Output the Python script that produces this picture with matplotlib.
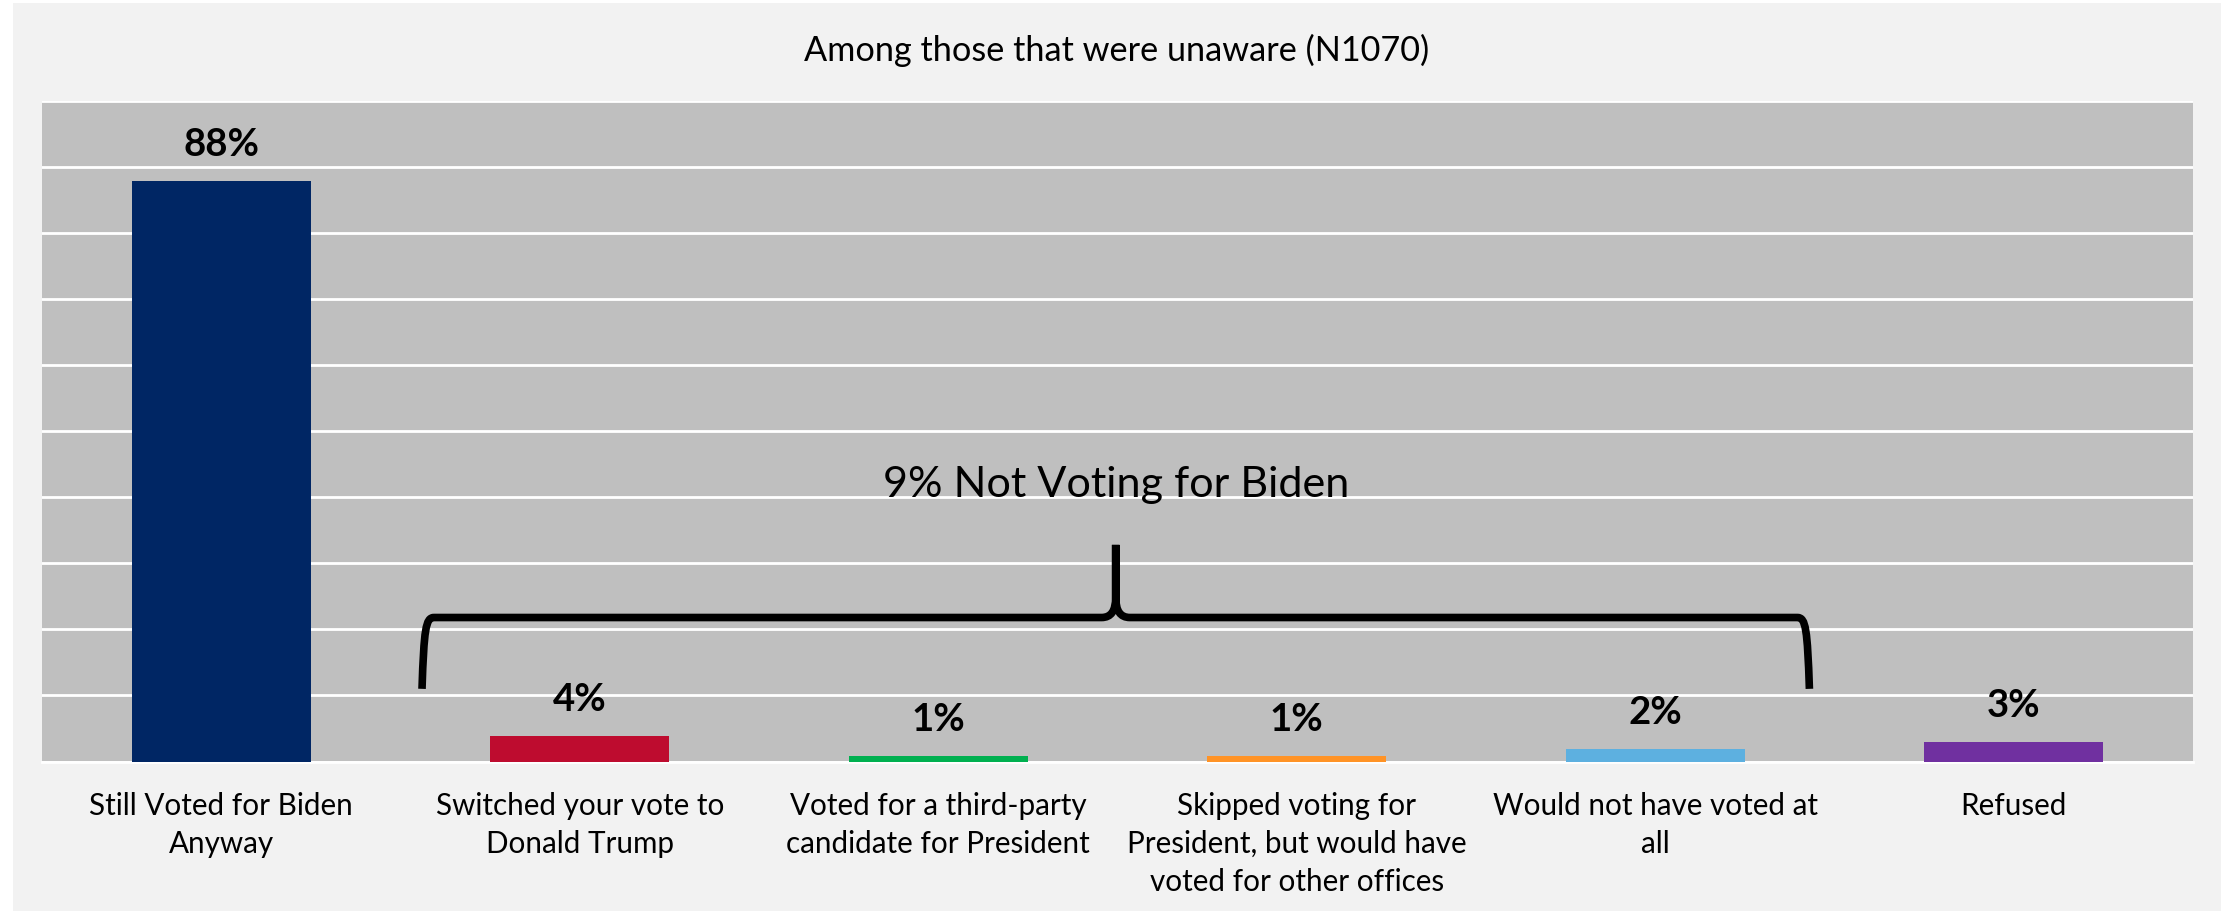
import matplotlib
matplotlib.use("Agg")
import matplotlib.pyplot as plt
from matplotlib.path import Path
from matplotlib.patches import PathPatch, Rectangle

# ---- data ----
categories = [
    "Still Voted for Biden\nAnyway",
    "Switched your vote to\nDonald Trump",
    "Voted for a third-party\ncandidate for President",
    "Skipped voting for\nPresident, but would have\nvoted for other offices",
    "Would not have voted at\nall",
    "Refused",
]
values = [87.9, 3.9, 0.8, 0.8, 1.9, 2.9]
value_labels = ["88%", "4%", "1%", "1%", "2%", "3%"]
colors = ["#002664", "#BE0C2F", "#00B050", "#FF9326", "#5DB0E0", "#7030A0"]
title = "Among those that were unaware (N1070)"
brace_text = "9% Not Voting for Biden"
brace_first, brace_last = 1, 4

FONT = "Lato"
plt.rcParams["font.family"] = [FONT, "DejaVu Sans"]

W, H = 2226, 912
fig = plt.figure(figsize=(W / 100, H / 100), dpi=100)
fig.patch.set_facecolor("white")
# outer light-grey chart area
fig.patches.append(Rectangle((13 / W, 0), (2221 - 13) / W, (H - 4) / H,
                             transform=fig.transFigure, facecolor="#F2F2F2",
                             edgecolor="none", zorder=-10))

left, right, top, bottom = 42, 2193, 102, 762.5
ax = fig.add_axes([left / W, (H - bottom) / H, (right - left) / W, (bottom - top) / H])
ax.set_facecolor("#BFBFBF")
x = list(range(len(categories)))
ax.bar(x, values, width=0.5, color=colors, zorder=3)
ax.set_xlim(-0.5, len(categories) - 0.5)
ax.set_ylim(0, 100)
ax.set_yticks(range(0, 101, 10))
ax.yaxis.grid(True, color="white", linewidth=2.0, zorder=1)
ax.set_axisbelow(True)
ax.tick_params(axis="both", length=0, labelleft=False)
for s in ax.spines.values():
    s.set_visible(False)
ax.spines["bottom"].set_visible(True)
ax.spines["bottom"].set_color("white")
ax.spines["bottom"].set_linewidth(2)
ax.set_xticks(x)
ax.set_xticklabels(categories, fontsize=21.3, linespacing=1.45, va="top")
ax.tick_params(axis="x", pad=21)

for xi, v, lab in zip(x, values, value_labels):
    ax.annotate(lab, (xi, v), xytext=(0, 20), textcoords="offset pixels",
                ha="center", va="bottom", fontsize=27.6, fontweight="bold")

fig.text(0.5015, (H - 50) / H, title, ha="center", va="center", fontsize=24.7)

# ---- curly brace over the "not voting for Biden" categories ----
px_x = (right - left) / len(categories)   # pixels per category
px_y = (bottom - top) / 100.0              # pixels per percent
xl = brace_first - 0.44
xr = brace_last + 0.43
xc = (xl + xr) / 2
yh = 21.8
yb = 11.0
ytop = 32.8
rx, ry = 12 / px_x, 12 / px_y
fx, fy = 14 / px_x, 20 / px_y
verts = [
    (xl, yb), (xl + 2 / px_x, yh - ry), (xl + 0.3 * rx, yh), (xl + rx, yh),
    (xc - fx, yh), (xc, yh), (xc, yh + fy), (xc, ytop),
    (xc, ytop), (xc, yh + fy), (xc, yh), (xc + fx, yh),
    (xr - rx, yh), (xr - 0.3 * rx, yh), (xr - 2 / px_x, yh - ry), (xr, yb),
]
codes = [
    Path.MOVETO, Path.CURVE4, Path.CURVE4, Path.CURVE4,
    Path.LINETO, Path.CURVE3, Path.CURVE3, Path.LINETO,
    Path.MOVETO, Path.LINETO, Path.CURVE3, Path.CURVE3,
    Path.LINETO, Path.CURVE4, Path.CURVE4, Path.CURVE4,
]
ax.add_patch(PathPatch(Path(verts, codes), facecolor="none", edgecolor="black",
                       linewidth=5.5, capstyle="butt", joinstyle="round", zorder=4))
ax.text(xc, 40.2, brace_text, ha="center", va="baseline", fontsize=31.1, zorder=4)

fig.savefig("out.png", dpi=100, facecolor=fig.get_facecolor())
